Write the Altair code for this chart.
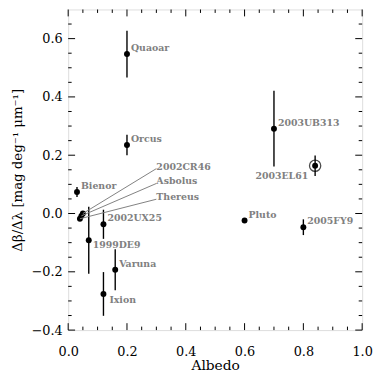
import altair as alt
import pandas as pd

names = ["Quaoar", "Orcus", "2003UB313", "2003EL61", "Bienor", "2002CR46", "Asbolus",
         "Thereus", "1999DE9", "2002UX25", "Varuna", "Ixion", "Pluto", "2005FY9"]
albedo = [0.20, 0.20, 0.70, 0.84, 0.03, 0.05, 0.045, 0.04, 0.07, 0.12, 0.16, 0.12, 0.60, 0.80]
slope = [0.547, 0.235, 0.291, 0.164, 0.074, 0.0, -0.008, -0.018, -0.092, -0.037, -0.193, -0.276, -0.024, -0.047]
err = [0.080, 0.035, 0.130, 0.035, 0.017, 0.0, 0.0, 0.0, 0.115, 0.050, 0.070, 0.075, 0.0, 0.027]
group = ["std", "std", "std", "el61", "std", "lead", "lead", "lead", "below", "std", "std", "ixion", "std", "std"]

# leader-line label anchors (data units)
lead_names = ["2002CR46", "Asbolus", "Thereus"]
lead_x = [0.30, 0.30, 0.30]
lead_y = [0.154, 0.103, 0.049]

x_major = [0.0, 0.2, 0.4, 0.6, 0.8, 1.0]
x_minor = [0.05, 0.1, 0.15, 0.25, 0.3, 0.35, 0.45, 0.5, 0.55, 0.65, 0.7, 0.75, 0.85, 0.9, 0.95]
y_major = [-0.4, -0.2, 0.0, 0.2, 0.4, 0.6]
y_minor = [-0.35, -0.3, -0.25, -0.15, -0.1, -0.05, 0.05, 0.1, 0.15, 0.25, 0.3, 0.35,
           0.45, 0.5, 0.55, 0.65]

W, H = 298, 325
MAJ, MIN = 7, 3.5

df = pd.DataFrame({"name": names, "albedo": albedo, "slope": slope, "err": err, "group": group})
df["lo"] = df["slope"] - df["err"]
df["hi"] = df["slope"] + df["err"]

pts = df[["name", "albedo", "slope"]]
lead = pd.DataFrame({"name": lead_names, "lx": lead_x, "ly": lead_y}).merge(pts, on="name")

xs = alt.Scale(domain=[0, 1], nice=False, zero=False, padding=0)
ys = alt.Scale(domain=[-0.4, 0.7], nice=False, zero=False, padding=0)

serif = "DejaVu Serif"
X = alt.X("albedo:Q", scale=xs, title="Albedo",
          axis=alt.Axis(values=x_major, format=".1f", ticks=False, tickSize=0, domain=False, grid=False,
                        labelFlush=False, labelOverlap=False,
                        labelFont=serif, labelFontSize=13, labelColor="black", labelPadding=16,
                        titleFont=serif, titleFontSize=14, titleFontWeight="normal", titleColor="black",
                        titleBaseline="middle", titleY=36))
Y = alt.Y("slope:Q", scale=ys, title="Δβ/Δλ [mag deg⁻¹ μm⁻¹]",
          axis=alt.Axis(values=y_major, format=".1f", ticks=False, tickSize=0, domain=False, grid=False,
                        labelFlush=False, labelOverlap=False,
                        labelFont=serif, labelFontSize=13, labelColor="black", labelPadding=6,
                        labelExpr="replace(datum.label, '-', '−')",
                        titleFont=serif, titleFontSize=13.5, titleFontWeight="normal", titleColor="black",
                        titlePadding=7))

base = alt.Chart(df)

errbars = base.transform_filter("datum.err > 0").mark_rule(color="black", strokeWidth=1.4).encode(
    x=X, y=alt.Y("lo:Q", scale=ys), y2="hi:Q")
dots = base.mark_circle(color="black", opacity=1, size=36).encode(x=X, y=Y)
ring = base.transform_filter("datum.name == '2003EL61'").mark_point(
    shape="circle", filled=False, color="black", size=130, strokeWidth=1.3).encode(x=X, y=Y)

leaders = alt.Chart(lead).mark_rule(color="#808080", strokeWidth=1).encode(
    x=alt.X("albedo:Q", scale=xs), y=alt.Y("slope:Q", scale=ys), x2="lx:Q", y2="ly:Q")

lab_style = dict(font=serif, fontSize=9.5, fontWeight="bold", color="#808080", baseline="middle")


def labels(grp, dx, dy, align="left"):
    return base.transform_filter(f"datum.group == '{grp}'").mark_text(
        align=align, dx=dx, dy=dy, **lab_style).encode(
        x=alt.X("albedo:Q", scale=xs), y=alt.Y("slope:Q", scale=ys), text="name:N")


lab_std = labels("std", 4, -6)
lab_el61 = labels("el61", -7, 10, "right")
lab_below = labels("below", 4, 5)
lab_ixion = labels("ixion", 6, 6)
lab_lead = alt.Chart(lead).mark_text(align="left", dx=0, dy=-2, **lab_style).encode(
    x=alt.X("lx:Q", scale=xs), y=alt.Y("ly:Q", scale=ys), text="name:N")

tx = pd.DataFrame({"v": x_major + x_minor, "len": [MAJ] * len(x_major) + [MIN] * len(x_minor)})
ty = pd.DataFrame({"v": y_major + y_minor, "len": [MAJ] * len(y_major) + [MIN] * len(y_minor)})


def xticks(bottom, length):
    d = tx[tx["len"] == length]
    if bottom:
        return alt.Chart(d).mark_rule(color="black", strokeWidth=1).encode(
            x=alt.X("v:Q", scale=xs), y=alt.value(H), y2=alt.value(H - length))
    return alt.Chart(d).mark_rule(color="black", strokeWidth=1).encode(
        x=alt.X("v:Q", scale=xs), y=alt.value(0), y2=alt.value(length))


def yticks(left, length):
    d = ty[ty["len"] == length]
    if left:
        return alt.Chart(d).mark_rule(color="black", strokeWidth=1).encode(
            y=alt.Y("v:Q", scale=ys), x=alt.value(0), x2=alt.value(length))
    return alt.Chart(d).mark_rule(color="black", strokeWidth=1).encode(
        y=alt.Y("v:Q", scale=ys), x=alt.value(W), x2=alt.value(W - length))


ticks = [xticks(b, l) for b in (True, False) for l in (MAJ, MIN)] + \
        [yticks(b, l) for b in (True, False) for l in (MAJ, MIN)]

chart = alt.layer(
    dots, errbars, ring, leaders, lab_std, lab_el61, lab_below, lab_ixion, lab_lead, *ticks
).properties(
    width=W, height=H,
    autosize=alt.AutoSizeParams(type="none"),
    padding={"left": 61, "top": -1, "right": 12, "bottom": 41},
).configure_view(stroke="black", strokeWidth=1.5).configure(background="white")

chart.save("out.html", embed_options={"renderer": "svg", "actions": False})
